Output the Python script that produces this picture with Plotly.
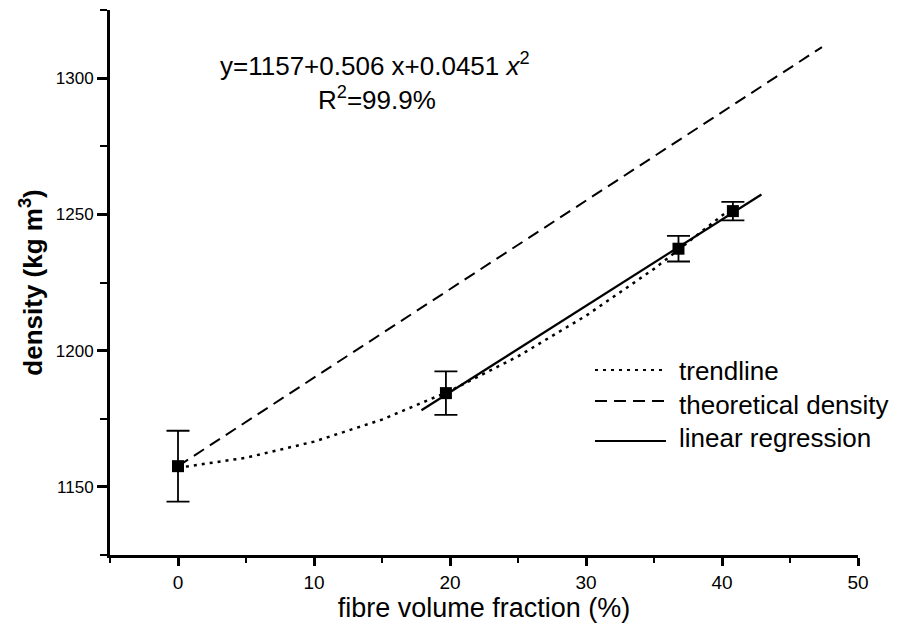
import plotly.graph_objects as go

# measured data
fvf = [0.0, 19.7, 36.8, 40.8]
density = [1157.6, 1184.4, 1237.4, 1251.2]
density_err = [13.0, 8.0, 4.7, 3.4]

# trendline (dotted)
trend_x = [0, 5, 10, 15, 20, 25, 30, 35, 40.8]
trend_y = [1157.0, 1160.7, 1166.6, 1174.7, 1185.2, 1197.9, 1212.8, 1230.0, 1252.7]

# theoretical density (dashed)
theo_x = [0.0, 47.35]
theo_y = [1157.6, 1311.4]

# linear regression (solid)
lin_x = [17.9, 42.9]
lin_y = [1178.1, 1257.3]

x_ticks = [0, 10, 20, 30, 40, 50]
y_ticks = [1150, 1200, 1250, 1300]

legend_labels = ["trendline", "theoretical density", "linear regression"]
legend_dash = ["3px,5px", "12px,7px", "solid"]

FONT = "Liberation Sans, Arial, sans-serif"

fig = go.Figure()
fig.add_trace(go.Scatter(x=trend_x, y=trend_y, mode="lines", line=dict(color="black", width=2.5, dash="3px,5px"),
                         showlegend=False, hoverinfo="skip"))
fig.add_trace(go.Scatter(x=theo_x, y=theo_y, mode="lines", line=dict(color="black", width=2, dash="12px,7px"),
                         showlegend=False, hoverinfo="skip"))
fig.add_trace(go.Scatter(x=lin_x, y=lin_y, mode="lines", line=dict(color="black", width=2.2),
                         showlegend=False, hoverinfo="skip"))
fig.add_trace(go.Scatter(x=fvf, y=density, mode="markers",
                         marker=dict(symbol="square", size=12, color="black"),
                         error_y=dict(type="data", array=density_err, visible=True, color="black",
                                      thickness=1.8, width=11.5),
                         showlegend=False))

# manual legend (line samples + labels) in paper coordinates
L, R, T, B = 110, 858, 10, 555
def px(x):
    return (x - L) / (R - L)
def py(y):
    return (B - y) / (B - T)

leg_line_y = [370, 401, 441]
leg_text_y = [371, 405, 438]
for lbl, dsh, ly, ty in zip(legend_labels, legend_dash, leg_line_y, leg_text_y):
    fig.add_shape(type="line", xref="paper", yref="paper", x0=px(595), x1=px(666), y0=py(ly), y1=py(ly),
                  line=dict(color="black", width=2.2 if dsh == "solid" else 2, dash=dsh))
    fig.add_annotation(xref="paper", yref="paper", x=px(677), y=py(ty), text=lbl, showarrow=False,
                       xanchor="left", yanchor="middle", font=dict(family=FONT, size=26, color="black"))

fig.add_annotation(xref="paper", yref="paper", x=px(375), y=py(64),
                   text="y=1157+0.506 x+0.0451 <i>x</i><sup>2</sup>", showarrow=False,
                   xanchor="center", yanchor="middle", font=dict(family=FONT, size=26, color="black"))
fig.add_annotation(xref="paper", yref="paper", x=px(377), y=py(99),
                   text="R<sup>2</sup>=99.9%", showarrow=False,
                   xanchor="center", yanchor="middle", font=dict(family=FONT, size=26, color="black"))

fig.update_layout(
    width=898, height=632,
    margin=dict(l=102, r=48, t=2, b=85),
    plot_bgcolor="white", paper_bgcolor="white",
    font=dict(family=FONT, color="black"),
    xaxis=dict(range=[-5, 50], tickvals=x_ticks, ticks="outside", ticklen=8, tickwidth=2.5,
               showline=True, linewidth=3, linecolor="black", showgrid=False, zeroline=False,
               tickfont=dict(size=19), tickcolor="black",
               minor=dict(dtick=5, tick0=0, ticks="outside", ticklen=5, tickwidth=2, tickcolor="black"),
               title=dict(text="fibre volume fraction (%)", font=dict(size=27), standoff=4)),
    yaxis=dict(range=[1125, 1325], tickvals=y_ticks, ticks="outside", ticklen=10, tickwidth=2.5,
               showline=True, linewidth=3, linecolor="black", showgrid=False, zeroline=False,
               tickfont=dict(size=17), tickcolor="black",
               minor=dict(dtick=25, tick0=1125, ticks="outside", ticklen=7, tickwidth=2, tickcolor="black"),
               title=dict(text="<b>density (kg m<sup>3</sup>)</b>", font=dict(size=26), standoff=6)),
)

fig.write_html("out.html")
